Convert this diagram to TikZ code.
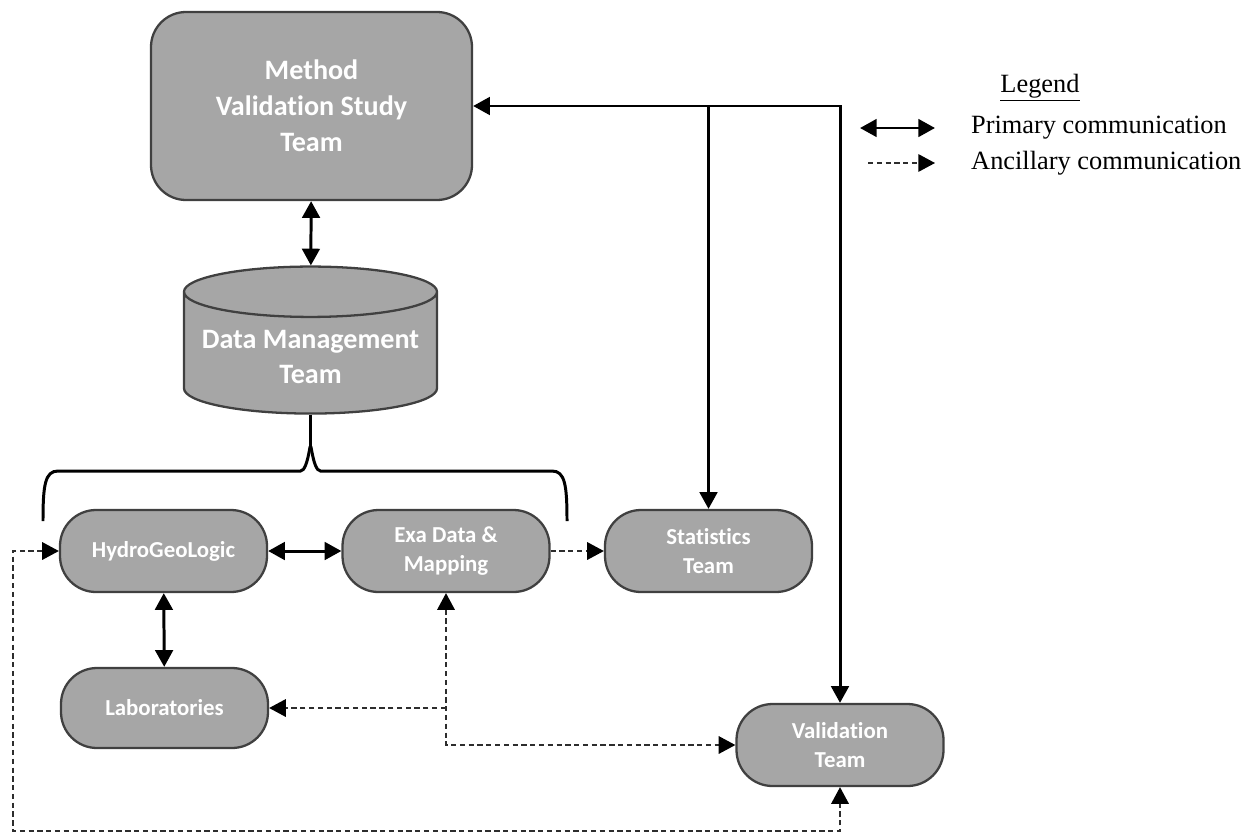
\documentclass[tikz,border=0pt]{standalone}
\usepackage{fontspec}
\setmainfont{Liberation Serif}
\newfontfamily\teamfont[Ligatures=NoCommon]{Carlito}
\usetikzlibrary{arrows.meta,positioning,calc,shapes.geometric}
\definecolor{boxfill}{RGB}{166,166,166}
\definecolor{boxedge}{RGB}{64,64,64}
\definecolor{dashcol}{RGB}{45,45,45}
\tikzset{
  >={Triangle[length=9.5pt,width=10pt,color=black]},
  team/.style={draw=boxedge, fill=boxfill, line width=1.3pt, rounded corners=0.72cm,
    minimum width=4.14cm, minimum height=1.64cm, align=center, text=white,
    font=\teamfont\bfseries\fontsize{13}{17}\selectfont},
  bigteam/.style={team, rounded corners=0.7cm, minimum width=6.42cm, minimum height=3.76cm,
    font=\teamfont\bfseries\fontsize{16}{20.4}\selectfont},
  store/.style={cylinder, shape border rotate=90, aspect=0.22, draw=boxedge, fill=boxfill,
    line width=1.3pt, minimum width=5.06cm, minimum height=2.94cm, align=center, text=white,
    font=\teamfont\bfseries\fontsize{16}{20}\selectfont},
  prim/.style={line width=1.7pt},
  ancil/.style={line width=0.8pt, draw=dashcol, dash pattern=on 3pt off 2pt},
  brk/.style={line width=1.7pt},
  legtext/.style={font=\fontsize{15}{18}\selectfont, anchor=west},
}

\begin{document}
\begin{tikzpicture}
  \useasboundingbox (0,0) rectangle (24.98,-16.68);
  % teams
  \node[bigteam] (method) at (6.23,-2.12) {Method\\Validation Study\\Team};
  \node[store] (dm) at (6.21,-7.14) {Data Management\\Team};
  \node[team] (hgl) at (3.27,-11.02) {HydroGeoLogic};
  \node[team] (exa) at (8.92,-11.02) {Exa Data \&\\Mapping};
  \node[team] (stats) at (14.17,-11.02) {Statistics\\Team};
  \node[team, minimum height=1.6cm] (labs) at (3.29,-14.16) {Laboratories};
  \node[team] (valid) at (16.8,-14.9) {Validation\\Team};

  % brace under the data store
  \coordinate (cusp) at (dm.south |- 0,-9.0);
  \draw[brk] (dm.south) -- (cusp);
  \draw[brk] (cusp) .. controls ($(cusp)+(0,0.3)$) and ($(cusp)+(-0.04,-0.42)$) .. ($(cusp)+(-0.2,-0.42)$)
    -- (1.16,-9.42) .. controls (0.9,-9.42) and (0.86,-9.7) .. (0.86,-10.42);
  \draw[brk] (cusp) .. controls ($(cusp)+(0,0.3)$) and ($(cusp)+(0.04,-0.42)$) .. ($(cusp)+(0.2,-0.42)$)
    -- (11.04,-9.42) .. controls (11.3,-9.42) and (11.34,-9.7) .. (11.34,-10.42);

  % primary communication
  \draw[prim,<->] (method) -- (dm);
  \draw[prim,<->] (method.east) -| (valid.north);
  \draw[prim,->] (stats.north |- method.east) -- (stats.north);
  \draw[prim,<->] (hgl) -- (exa);
  \draw[prim,<->] (hgl) -- (labs);

  % ancillary communication
  \draw[ancil,->] (exa) -- (stats);
  \draw[ancil,<->] (exa.south) |- (valid.west);
  \draw[ancil,->] (exa.south |- labs.east) -- (labs.east);
  \coordinate (loop) at (0.26,-16.62);
  \draw[ancil,<->] (hgl.west) -| (loop) -| (valid.south);

  % legend
  \node[font=\fontsize{15}{18}\selectfont] (legtitle) at (20.8,-1.76) {\underline{Legend}};
  \coordinate (pa) at (17.2,-2.56);
  \coordinate (pb) at (18.7,-2.56);
  \draw[prim,<->] (pa) -- (pb);
  \node[legtext] (ptext) at (19.3,-2.56) {Primary communication};
  \coordinate (aa) at (17.36,-3.26);
  \coordinate (ab) at (18.7,-3.26);
  \draw[ancil,->] (aa) -- (ab);
  \node[legtext] (atext) at (19.3,-3.26) {Ancillary communication};
\end{tikzpicture}
\end{document}
